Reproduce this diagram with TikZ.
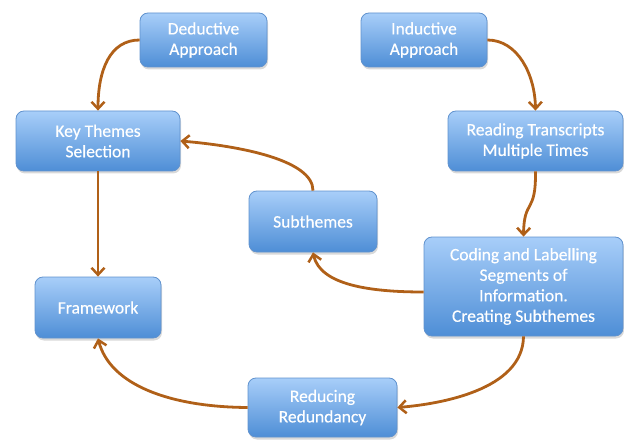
\documentclass[tikz,border=0pt]{standalone}
\usepackage{fontspec}
\setmainfont{Carlito}
\newfontfamily\boxfont[FakeBold=0.35]{Carlito}
\usetikzlibrary{shadows,arrows.meta}
\definecolor{boxtop}{RGB}{168,206,249}
\definecolor{boxbot}{RGB}{78,142,214}
\definecolor{boxdraw}{RGB}{96,146,206}
\definecolor{arrowc}{RGB}{176,96,24}
\tikzset{
  box/.style={rectangle, rounded corners=8pt, draw=boxdraw, line width=0.8pt,
    top color=boxtop, bottom color=boxbot, text=white, align=center,
    font=\boxfont\fontsize{17.5}{20.5}\selectfont, inner sep=0pt,
    drop shadow={shadow xshift=1pt, shadow yshift=-2.5pt, opacity=0.3}},
  conn/.style={draw=arrowc, line width=2.8pt,
    -{Straight Barb[length=7pt,width=13pt,line width=2.5pt]}}
}
\begin{document}
\begin{tikzpicture}[x=1pt,y=-1pt]
\useasboundingbox (0,0) rectangle (624,441);
\node[box, minimum width=127pt, minimum height=54pt] (ded) at (203.5,40) {Deductive\\Approach};
\node[box, minimum width=126pt, minimum height=54pt] (ind) at (424,40) {Inductive\\Approach};
\node[box, minimum width=164pt, minimum height=60pt] (kts) at (98,141) {Key Themes\\Selection};
\node[box, minimum width=175pt, minimum height=60pt] (rtm) at (535.5,141) {Reading Transcripts\\Multiple Times};
\node[box, minimum width=128pt, minimum height=61pt] (sub) at (313,221.5) {Subthemes};
\node[box, minimum width=199pt, minimum height=99pt] (cod) at (523.5,286.5) {Coding and Labelling\\Segments of\\Information.\\Creating Subthemes};
\node[box, minimum width=126pt, minimum height=61pt] (frm) at (98,307.5) {Framework};
\node[box, minimum width=149pt, minimum height=59pt] (red) at (322.5,407.5) {Reducing\\Redundancy};

\draw[conn] (ded.west) .. controls (110,40) and (98,70) .. (kts.north);
\draw[conn] (ind.east) .. controls (518,40) and (535,75) .. (rtm.north);
\draw[conn] (rtm.south) .. controls (536,215) and (524,198) .. (cod.north);
\draw[conn] (cod.west |- 0,292) .. controls (370,292) and (320,285) .. (sub.south);
\draw[conn] (sub.north) .. controls (313,160) and (240,146) .. (kts.east);
\draw[conn] (kts.south) -- (frm.north);
\draw[conn] (cod.south) .. controls (523,390) and (440,404) .. (red.east);
\draw[conn] (red.west) .. controls (170,407) and (110,385) .. (frm.south);
\end{tikzpicture}
\end{document}
